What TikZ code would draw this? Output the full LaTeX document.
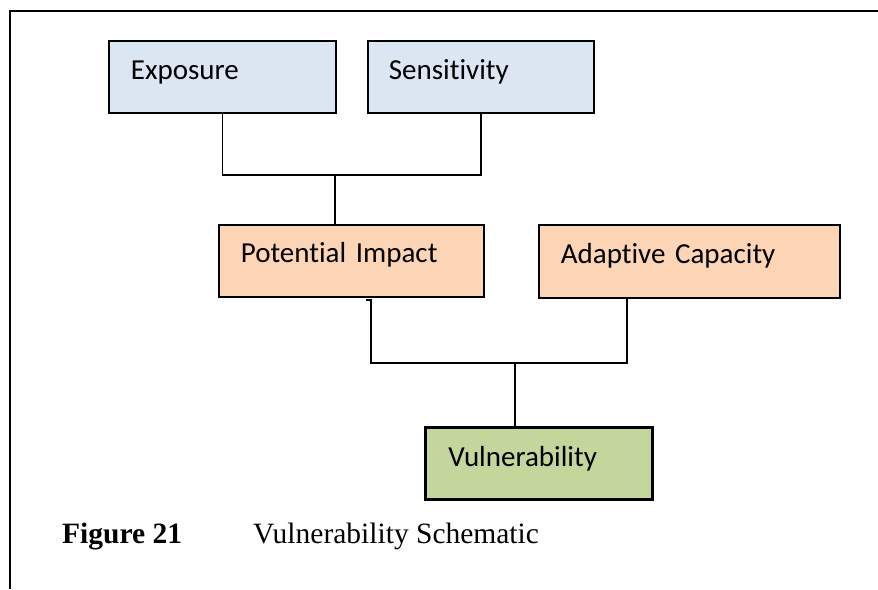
\documentclass[tikz,border=0pt]{standalone}
\usepackage{fontspec}
\setmainfont{Carlito}[Ligatures={NoCommon,NoContextual}]
\newfontfamily\capfont{Liberation Serif}
\definecolor{boxblue}{HTML}{DCE6F2}
\definecolor{boxorange}{HTML}{FBD5B5}
\definecolor{boxgreen}{HTML}{C3D69B}
\tikzset{
  schembox/.style={draw=black, line width=1.7pt, rectangle, anchor=north west,
    inner ysep=0pt, align=left, text height=39pt, text depth=33pt,
    font=\fontsize{29}{34}\selectfont},
  conn/.style={draw=black, line width=1.4pt},
  frameline/.style={draw=black, line width=2.6pt},
  captext/.style={anchor=base west, inner sep=0pt, font=\capfont\fontsize{29.5}{34}\selectfont}
}
\begin{document}
\begin{tikzpicture}[x=1pt,y=-1pt]
\useasboundingbox (0,0) rectangle (878,589);
\fill[white] (0,0) rectangle (878,589);
% frame
\coordinate (fr1) at (878,11);
\coordinate (fr2) at (10,11);
\coordinate (fr3) at (10,589);
\draw[frameline] (fr1) -- (fr2) -- (fr3);
% boxes
\node[schembox, fill=boxblue, inner xsep=22pt, text width=183pt] (ex) at (108,40) {Exposure};
\node[schembox, fill=boxblue, inner xsep=21pt, text width=184pt] (se) at (367,40) {Sensitivity};
\node[schembox, fill=boxorange, inner xsep=22pt, text width=221pt, text height=38pt, text depth=34pt] (pi) at (218,224) {Potential Impact};
\node[schembox, fill=boxorange, inner xsep=22pt, text width=257pt, text height=39pt, text depth=34pt] (ac) at (538,224) {Adaptive Capacity};
\node[schembox, fill=boxgreen, line width=2.5pt, inner xsep=23pt, text width=181pt] (vu) at (424,426) {Vulnerability};
% connectors
\coordinate (j1) at (335,175);
\draw[conn] (ex.south) |- (j1) -| (se.south);
\draw[conn] (j1) -- (j1 |- pi.north);
\coordinate (p0) at (366,300);
\coordinate (p1) at (371,300);
\coordinate (a1) at (627,299);
\coordinate (j2) at (515,363);
\draw[conn] (p0) -- (p1) |- (j2) -| (a1);
\draw[conn] (j2) -- (j2 |- vu.north);
% caption
\node[captext, font=\capfont\bfseries\fontsize{29.5}{34}\selectfont] (figno) at (62,543) {Figure 21};
\node[captext] (figtitle) at (253,543) {Vulnerability Schematic};
\end{tikzpicture}
\end{document}
